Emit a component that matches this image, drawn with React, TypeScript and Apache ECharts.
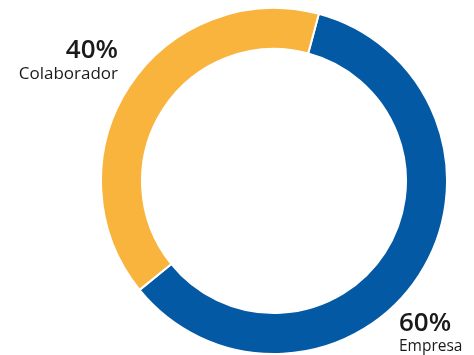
import React, { useEffect, useRef } from "react";
import * as echarts from "echarts";

const categories = ["Empresa", "Colaborador"];
const values = [60, 40];
const colors = ["#0459A5", "#F9B43D"];
// label anchor: [x, top, align, nameFontSize, nameLineHeight]
const labelPos: [number, number, string, number, number][] = [
  [399, 308, "left", 15.5, 21],
  [118, 35, "right", 17, 23],
];

export default function App() {
  const ref = useRef<HTMLDivElement>(null);
  useEffect(() => {
    const chart = echarts.init(ref.current!, null, { renderer: "svg" });
    const graphic: any[] = categories.map((c, i) => {
      const [x, top, align, nfs, nlh] = labelPos[i];
      return {
        type: "text",
        style: {
          x,
          y: top,
          text: `{p|${values[i]}%}\n{n|${c}}`,
          textAlign: align,
          textVerticalAlign: "top",
          fontFamily: "Open Sans",
          fill: "#1a1a1a",
          rich: {
            p: {
              fontFamily: "Open Sans",
              fontWeight: 600,
              fontSize: 26,
              lineHeight: 26,
              fill: "#1a1a1a",
              align,
            },
            n: {
              fontFamily: "Open Sans",
              fontSize: nfs,
              lineHeight: nlh,
              fill: "#1a1a1a",
              align,
            },
          },
        },
      };
    });
    chart.setOption({
      animation: false,
      graphic,
      series: [
        {
          type: "pie",
          center: [274, 181],
          radius: [132, 173],
          startAngle: 75,
          clockwise: true,
          silent: true,
          itemStyle: { borderColor: "#fff", borderWidth: 2 },
          labelLine: { show: false },
          label: { show: false },
          data: categories.map((c, i) => ({
            name: c,
            value: values[i],
            itemStyle: { color: colors[i] },
          })),
        },
      ],
    });
    return () => chart.dispose();
  }, []);
  return (
    <div
      ref={ref}
      style={{ position: "fixed", left: 0, top: 0, width: 474, height: 355 }}
    />
  );
}
